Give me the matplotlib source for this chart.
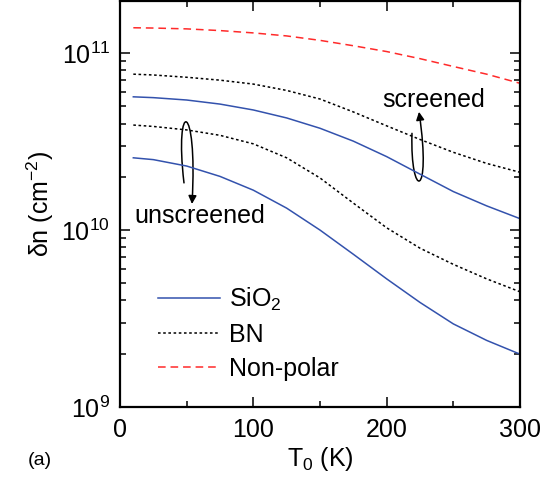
import numpy as np
import matplotlib
matplotlib.use("Agg")
import matplotlib.pyplot as plt
from matplotlib.path import Path
from matplotlib.patches import FancyArrowPatch
from matplotlib.ticker import LogLocator, MultipleLocator

plt.rcParams["font.family"] = ["Liberation Sans", "DejaVu Sans"]
plt.rcParams["mathtext.default"] = "regular"

# temperature grid (K)
T = [10, 25, 50, 75, 100, 125, 150, 175, 200, 225, 250, 275, 300]

# delta n (cm^-2)
nonpolar = [1.39e11, 1.385e11, 1.37e11, 1.34e11, 1.30e11, 1.25e11, 1.18e11,
            1.10e11, 1.02e11, 9.3e10, 8.4e10, 7.6e10, 6.75e10]
bn_scr = [7.6e10, 7.52e10, 7.3e10, 7.03e10, 6.68e10, 6.15e10, 5.5e10,
          4.65e10, 3.88e10, 3.25e10, 2.75e10, 2.38e10, 2.12e10]
sio2_scr = [5.66e10, 5.6e10, 5.43e10, 5.15e10, 4.77e10, 4.3e10, 3.76e10,
            3.18e10, 2.6e10, 2.07e10, 1.65e10, 1.37e10, 1.16e10]
bn_unscr = [3.92e10, 3.85e10, 3.68e10, 3.43e10, 3.07e10, 2.56e10, 1.97e10,
            1.42e10, 1.03e10, 7.9e9, 6.4e9, 5.3e9, 4.48e9]
sio2_unscr = [2.56e10, 2.5e10, 2.3e10, 2.01e10, 1.68e10, 1.33e10, 1.0e10,
              7.3e9, 5.3e9, 3.9e9, 2.95e9, 2.38e9, 1.99e9]

BLUE = "#3352ad"
RED = "#ff2a2a"

fig = plt.figure(figsize=(5.55, 4.8), dpi=100)
ax = fig.add_axes([0.2162, 0.152, 0.7207, 0.846])

lw = 1.1
ax.plot(T, sio2_scr, color=BLUE, lw=lw, label="SiO$_2$")
ax.plot(T, sio2_unscr, color=BLUE, lw=lw)
ax.plot(T, bn_scr, color="black", lw=lw, ls=(0, (1.7, 1.7)), label="BN")
ax.plot(T, bn_unscr, color="black", lw=lw, ls=(0, (1.7, 1.7)))
ax.plot(T, nonpolar, color=RED, lw=lw, ls=(0, (5, 3.2)), label="Non-polar")

ax.set_yscale("log")
ax.set_xlim(0, 300)
ax.set_ylim(1e9, 1.97e11)
ax.xaxis.set_major_locator(MultipleLocator(100))
ax.xaxis.set_minor_locator(MultipleLocator(50))
ax.yaxis.set_major_locator(LogLocator(base=10, numticks=10))
ax.yaxis.set_minor_locator(LogLocator(base=10, subs=np.arange(2, 10), numticks=20))
ax.tick_params(which="both", direction="in", top=True, right=True, width=1.1)
ax.tick_params(which="major", length=7, labelsize=18, pad=7)
ax.tick_params(which="minor", length=4.5)
ax.tick_params(axis="x", which="major", pad=8)
for s in ax.spines.values():
    s.set_linewidth(1.6)

ax.set_xlabel("T$_0$ (K)", fontsize=18, labelpad=2)
ax.set_ylabel("δn (cm$^{-2}$)", fontsize=18, labelpad=4)

leg = ax.legend(loc="lower left", bbox_to_anchor=(0.07, 0.04), frameon=False,
                fontsize=18, handlelength=2.5, handletextpad=0.35,
                labelspacing=0.4, borderaxespad=0)

ax.text(0.785, 0.755, "screened", transform=ax.transAxes, fontsize=18,
        ha="center", va="center")
ax.text(0.035, 0.47, "unscreened", transform=ax.transAxes, fontsize=18,
        ha="left", va="center")

loops = [
    [(0.16, 0.552), (0.135, 0.76), (0.195, 0.76), (0.18, 0.50)],
    [(0.73, 0.674), (0.725, 0.51), (0.78, 0.51), (0.7475, 0.727)],
]
for pts in loops:
    p = Path(pts, [Path.MOVETO, Path.CURVE4, Path.CURVE4, Path.CURVE4])
    arr = FancyArrowPatch(path=p, arrowstyle="-|>", mutation_scale=12,
                          lw=1.1, color="black", transform=ax.transAxes)
    ax.add_patch(arr)

fig.text(0.05, 0.04, "(a)", fontsize=14, ha="left", va="center")

fig.savefig("out.png", dpi=100)
